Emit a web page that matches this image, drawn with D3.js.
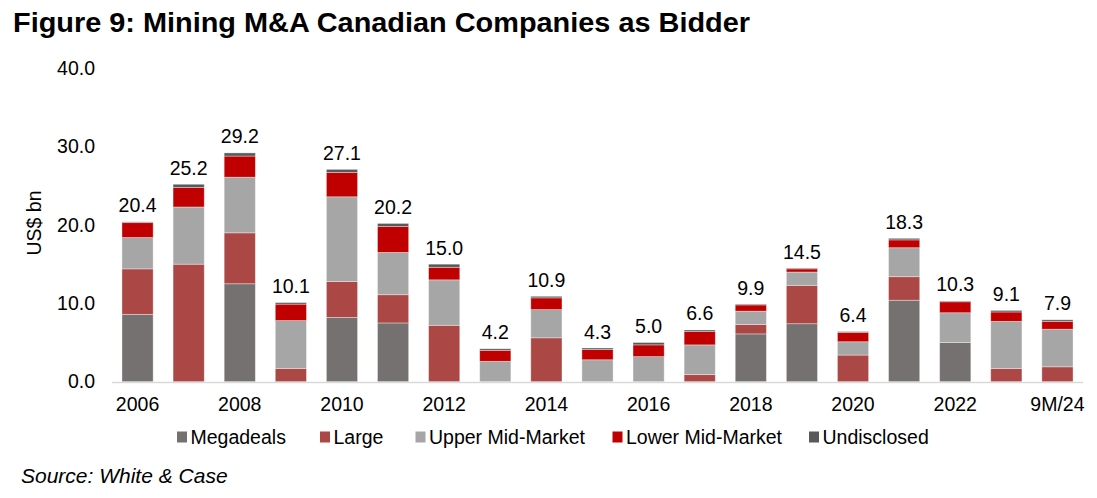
<!DOCTYPE html>
<html>
<head>
<meta charset="utf-8">
<script src="https://cdn.jsdelivr.net/npm/d3@7"></script>
<style>
  html, body { margin: 0; padding: 0; background: #fff; }
  svg { display: block; }
  text { font-family: "Liberation Sans", Arial, sans-serif; fill: #000; }
</style>
</head>
<body>
<svg id="chart" width="1097" height="498"></svg>
<script>
const categories = ["2006","2007","2008","2009","2010","2011","2012","2013","2014","2015","2016","2017","2018","2019","2020","2021","2022","2023","9M/24"];
const tickLabels = ["2006","2008","2010","2012","2014","2016","2018","2020","2022","9M/24"];
const seriesNames = ["Megadeals","Large","Upper Mid-Market","Lower Mid-Market","Undisclosed"];
const megadeals   = [8.6, 0.0, 12.5, 0.0, 8.2, 7.5, 0.0, 0.0, 0.0, 0.0, 0.0, 0.0, 6.1, 7.4, 0.0, 10.4, 5.0, 0.0, 0.0];
const large       = [5.8, 15.0, 6.5, 1.7, 4.6, 3.6, 7.2, 0.0, 5.6, 0.0, 0.0, 0.9, 1.2, 4.9, 3.4, 3.0, 0.0, 1.7, 1.9];
const upperMid    = [4.0, 7.3, 7.1, 6.1, 10.8, 5.4, 5.8, 2.6, 3.6, 2.8, 3.2, 3.8, 1.7, 1.7, 1.7, 3.7, 3.8, 6.0, 4.8];
const lowerMid    = [1.9, 2.5, 2.7, 2.1, 3.1, 3.3, 1.6, 1.4, 1.5, 1.3, 1.5, 1.7, 0.8, 0.4, 1.2, 1.0, 1.4, 1.2, 1.0];
const undisclosed = [0.1, 0.4, 0.4, 0.2, 0.4, 0.4, 0.4, 0.2, 0.2, 0.2, 0.3, 0.2, 0.1, 0.1, 0.1, 0.2, 0.1, 0.2, 0.2];
const totals      = [20.4, 25.2, 29.2, 10.1, 27.1, 20.2, 15.0, 4.2, 10.9, 4.3, 5.0, 6.6, 9.9, 14.5, 6.4, 18.3, 10.3, 9.1, 7.9];
const yTicks = [0, 10, 20, 30, 40];
const colors = ["#767171", "#ab4744", "#a6a6a6", "#c00000", "#595959"];

const seriesValues = [megadeals, large, upperMid, lowerMid, undisclosed];
const rows = categories.map((c, i) => {
  const r = { cat: c };
  seriesNames.forEach((s, k) => r[s] = seriesValues[k][i]);
  return r;
});

const FS = 19.5;
const svg = d3.select("#chart");
const x = d3.scaleBand().domain(categories).range([112, 1083]).paddingInner(0.39).paddingOuter(0.195);
const y = d3.scaleLinear().domain([0, 40]).range([381.7, 68.3]);
const color = d3.scaleOrdinal().domain(seriesNames).range(colors);

// Title
svg.append("text").attr("x", 13).attr("y", 32)
  .attr("font-size", 28).attr("font-weight", "bold")
  .attr("textLength", 737).attr("lengthAdjust", "spacingAndGlyphs")
  .text("Figure 9: Mining M&A Canadian Companies as Bidder");

// Y axis (labels only)
const yAxis = d3.axisLeft(y).tickValues(yTicks).tickFormat(d3.format(".1f")).tickSize(0).tickPadding(0);
const yg = svg.append("g").attr("transform", "translate(95,0)").call(yAxis);
yg.select(".domain").remove();
yg.selectAll("text").attr("font-size", FS).attr("font-family", "Liberation Sans, Arial, sans-serif").attr("fill", "#000");

svg.append("text")
  .attr("transform", "translate(41,223) rotate(-90)")
  .attr("text-anchor", "middle").attr("font-size", FS)
  .text("US$ bn");

// Stacked bars
const stack = d3.stack().keys(seriesNames)(rows);
svg.append("g").selectAll("g").data(stack).join("g")
  .attr("fill", d => color(d.key))
  .selectAll("rect").data(d => d).join("rect")
  .attr("x", d => x(d.data.cat))
  .attr("width", x.bandwidth())
  .attr("y", d => y(d[1]))
  .attr("height", d => Math.max(0, y(d[0]) - y(d[1])))
  .attr("stroke", "rgba(255,255,255,0.45)")
  .attr("stroke-width", 0.8);

// Baseline
svg.append("line").attr("x1", 112).attr("x2", 1083)
  .attr("y1", y(0) + 0.8).attr("y2", y(0) + 0.8)
  .attr("stroke", "#d9d9d9").attr("stroke-width", 1.5);

// Total labels
svg.append("g").selectAll("text").data(categories).join("text")
  .attr("x", d => x(d) + x.bandwidth() / 2)
  .attr("y", (d, i) => y(totals[i]) - 9.5)
  .attr("text-anchor", "middle").attr("font-size", FS)
  .text((d, i) => totals[i].toFixed(1));

// X axis labels
const xAxis = d3.axisBottom(x).tickValues(tickLabels).tickSize(0).tickPadding(0);
const xg = svg.append("g").attr("transform", "translate(0,397)").call(xAxis);
xg.select(".domain").remove();
xg.selectAll("text").attr("font-size", FS).attr("font-family", "Liberation Sans, Arial, sans-serif").attr("fill", "#000")
  .attr("dy", "0.71em");

// Legend
const legendX = [177, 320, 415.5, 612.5, 809];
const lg = svg.append("g").selectAll("g").data(seriesNames).join("g")
  .attr("transform", (d, i) => `translate(${legendX[i]},437)`);
lg.append("rect").attr("x", 0).attr("y", -5.5).attr("width", 10).attr("height", 11)
  .attr("fill", d => color(d));
lg.append("text").attr("x", 13.5).attr("y", 0).attr("dy", "0.35em")
  .attr("font-size", FS).text(d => d);

// Source
svg.append("text").attr("x", 21).attr("y", 483)
  .attr("font-size", 21).attr("font-style", "italic")
  .text("Source: White & Case");
</script>
</body>
</html>
